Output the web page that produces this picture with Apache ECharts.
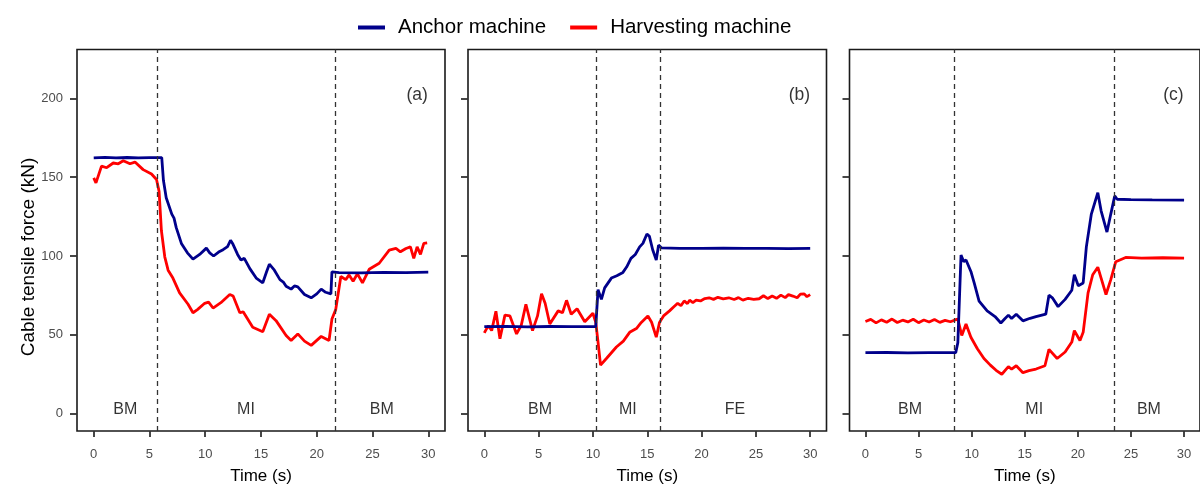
<!DOCTYPE html>
<html>
<head>
<meta charset="utf-8">
<script src="https://cdn.jsdelivr.net/npm/echarts@6/dist/echarts.min.js"></script>
<style>html,body{margin:0;padding:0;background:#fff}#c{width:1200px;height:490px}</style>
</head>
<body>
<div id="c"></div>
<script>
// ---------- DATA ----------
const seriesNames = ['Anchor machine', 'Harvesting machine'];
const panelTags = ['(a)', '(b)', '(c)'];
const yTitle = 'Cable tensile force (kN)';
const xTitle = 'Time (s)';
const xTicks = [0, 5, 10, 15, 20, 25, 30];
const yTicks = [0, 50, 100, 150, 200];

const anchorA = [[0,162.3],[1,162.6],[2,162.2],[3,162.5],[4,162.3],[5,162.4],[6.1,162.4],[6.25,148],[6.5,137],[7.0,126.6],[7.2,124],[7.4,118],[7.86,108],[8.4,102],[8.9,98],[9.5,101],[10.1,105],[10.4,102],[10.75,100],[11.2,102.5],[11.6,104],[12.0,106],[12.27,110],[12.45,108],[12.6,109],[12.9,101],[13.2,97.5],[13.5,98.5],[14.0,92],[14.57,86],[15.16,83],[15.5,90],[15.75,94.8],[16.2,91],[16.7,85],[17.0,83.5],[17.25,80.8],[17.7,79],[18.0,81],[18.3,80.4],[18.9,75.6],[19.5,73.5],[20.0,76],[20.4,79],[20.8,77],[21.27,76],[21.36,90],[22,89.5],[24,89.3],[26,89.6],[28,89.5],[30,89.8]];
const harvestA = [[0,149.6],[0.2,146.4],[0.7,157],[1.16,156],[1.75,159],[2.2,158.5],[2.65,160.4],[3.25,158.5],[3.7,159.6],[4.43,154.8],[5.18,152],[5.63,148.5],[5.86,141],[6.07,116],[6.37,99.5],[6.67,91],[7.1,86],[7.7,76.6],[8.46,69.4],[8.9,64],[9.3,66],[9.95,70],[10.3,70.8],[10.7,67],[11.4,70.4],[12.2,75.6],[12.5,74.6],[13.1,64],[13.4,64.6],[14.26,54.8],[15.16,52],[15.75,63],[16.35,59],[17.25,49.6],[17.7,46.4],[18.3,50.6],[18.9,46],[19.5,43.3],[20.4,49],[21.1,46.4],[21.36,60],[21.7,66],[22.16,87],[22.6,85],[22.9,88],[23.26,84],[23.65,88.7],[24.1,83],[24.7,91.6],[25.6,95.4],[26.5,103.7],[27.1,104.8],[27.5,102.7],[28,104.8],[28.4,105.8],[28.7,98.5],[29,105.8],[29.3,101],[29.6,108],[29.9,108.3]];

const anchorB = [[0,55.2],[2,55.4],[4,55.1],[6,55.3],[8,55.2],[10.26,55.2],[10.47,78.7],[10.78,72.5],[11.08,79.8],[11.7,86],[12.2,87.5],[12.76,89.6],[13.1,93],[13.5,98.5],[13.9,101],[14.3,105.8],[14.6,108],[14.97,114],[15.2,112.5],[15.5,104],[15.83,97.5],[16.04,106.9],[16.3,105.2],[18,104.9],[20,104.8],[22,105],[24,104.8],[26,104.9],[28,104.7],[30,104.8]];
const harvestB = [[0,51.2],[0.37,55.8],[0.68,52.7],[1.07,65],[1.44,47.5],[1.9,62.5],[2.36,62],[2.97,50.6],[3.4,56],[3.83,69.4],[4.44,52.7],[4.9,62],[5.27,76],[5.6,70],[6.03,56.9],[6.8,65.2],[7.2,64],[7.57,71.9],[8.0,63.1],[8.54,66.6],[9.25,58.3],[10.0,63.7],[10.26,57.9],[10.47,45.4],[10.7,30.8],[11.24,35],[12.16,42.3],[12.8,46],[13.38,51.6],[14.0,54],[14.45,57.9],[15.06,62],[15.4,58],[15.83,48.5],[16.13,57.9],[16.5,62],[17.05,65.2],[17.4,67.5],[17.8,70],[18.1,68.5],[18.4,71.5],[18.7,69.8],[18.9,72],[19.2,70.5],[19.5,72],[19.9,71.5],[20.3,73],[20.7,73.5],[21.1,72.5],[21.5,73.8],[22,72.8],[22.5,73.5],[23,72.4],[23.4,73.6],[23.8,72],[24.3,73.2],[24.8,72.5],[25.3,72.9],[25.7,74.8],[26.1,73],[26.5,74.6],[26.9,73.2],[27.3,75.2],[27.7,73.6],[28,75.5],[28.4,74.6],[28.8,73.5],[29.1,75.8],[29.45,76],[29.7,74.2],[30,75.5]];

const anchorC = [[0,38.7],[2,38.8],[4,38.6],[6,38.7],[8.5,38.7],[8.7,45],[9.0,100.6],[9.26,96.4],[9.47,97.5],[9.93,90.2],[10.24,82.9],[10.7,71.4],[11.46,65.2],[12.2,61.6],[12.75,57.5],[13.1,60],[13.46,62.5],[13.76,60.4],[14.2,63.1],[14.83,58.9],[15.5,60.5],[16.06,61.6],[16.98,63.1],[17.28,75.2],[17.6,73.5],[18.14,67.9],[18.8,72.5],[19.43,78.3],[19.67,88.1],[20.04,81.2],[20.5,82.9],[20.8,105.8],[21.27,126.6],[21.88,140.2],[22.19,128.7],[22.74,115.2],[23.1,126.6],[23.47,138.1],[23.7,136],[25,135.8],[27,135.6],[30,135.4]];
const harvestC = [[0,58.5],[0.5,59.8],[1,57.6],[1.5,59.5],[2,58.0],[2.5,60.0],[3,57.8],[3.5,59.3],[4,58.2],[4.5,59.9],[5,57.7],[5.5,59.4],[6,58.1],[6.5,59.7],[7,57.9],[7.5,59.2],[8,58.3],[8.5,59.6],[8.7,60],[9.07,49.6],[9.47,56.9],[9.93,48.5],[10.54,41.2],[11.16,35],[11.76,30.8],[12.3,27.5],[12.84,25],[13.46,29.8],[13.76,28.3],[14.2,30.4],[14.83,26],[15.4,27.3],[16.06,28.3],[16.9,30.4],[17.28,40.8],[18.05,35],[18.8,39.1],[19.43,45.4],[19.67,52.7],[20.2,46.4],[20.5,51.6],[20.96,76.6],[21.4,88.1],[21.88,92.9],[22.19,86],[22.65,75.6],[23.1,85],[23.57,96.4],[24.5,99.1],[26,98.6],[28,98.9],[30,98.7]];

const splitsA = [5.66, 21.65];
const splitsB = [10.26, 16.16];
const splitsC = [8.4, 23.38];
const phasesA = ['BM', 'MI', 'BM'];
const phasesB = ['BM', 'MI', 'FE'];
const phasesC = ['BM', 'MI', 'BM'];

// ---------- CHART ----------
const panels = [
  {anchor: anchorA, harvest: harvestA, splits: splitsA, phases: phasesA, tag: panelTags[0], left: 77, width: 368},
  {anchor: anchorB, harvest: harvestB, splits: splitsB, phases: phasesB, tag: panelTags[1], left: 468, width: 358.5},
  {anchor: anchorC, harvest: harvestC, splits: splitsC, phases: phasesC, tag: panelTags[2], left: 849.5, width: 358.5}
];
const FONT = '"Liberation Sans", Arial, sans-serif';
const grids = [], xAxes = [], yAxes = [], series = [];
panels.forEach((p, i) => {
  grids.push({left: p.left, width: p.width, top: 49.5, height: 387.5, show: true,
    borderColor: '#1a1a1a', borderWidth: 1.6, backgroundColor: 'transparent', containLabel: false});
  xAxes.push({type: 'value', gridIndex: i, min: -1.5, max: 31.5, position: 'bottom',
    name: xTitle, nameLocation: 'middle', nameGap: 37,
    nameTextStyle: {fontFamily: FONT, fontSize: 17, color: '#000'},
    axisLine: {show: false, onZero: false}, splitLine: {show: false},
    axisTick: {show: true, inside: false, length: 6, customValues: xTicks, lineStyle: {color: '#333', width: 1.8}},
    axisLabel: {customValues: xTicks, fontFamily: FONT, fontSize: 13, color: '#4d4d4d', margin: 17}});
  yAxes.push({type: 'value', gridIndex: i, min: -11, max: 231, position: 'left',
    axisLine: {show: false, onZero: false}, splitLine: {show: false},
    axisTick: {show: true, inside: false, length: 7, customValues: yTicks, lineStyle: {color: '#333', width: 1.8}},
    axisLabel: {show: i === 0, customValues: yTicks, fontFamily: FONT, fontSize: 13, color: '#4d4d4d', margin: 14}});
  series.push({type: 'line', name: seriesNames[0], xAxisIndex: i, yAxisIndex: i, data: p.anchor,
    showSymbol: false, symbol: 'none', lineStyle: {color: '#00008B', width: 2.8}, itemStyle: {color: '#00008B'},
    animation: false, z: 3,
    markLine: {silent: true, symbol: ['none', 'none'], label: {show: false},
      lineStyle: {color: '#333', type: [5, 4], width: 1.3},
      data: p.splits.map(s => ({xAxis: s}))}});
  series.push({type: 'line', name: seriesNames[1], xAxisIndex: i, yAxisIndex: i, data: p.harvest,
    showSymbol: false, symbol: 'none', lineStyle: {color: '#FF0000', width: 2.8}, itemStyle: {color: '#FF0000'},
    animation: false, z: 2});
  const bounds = [0, ...p.splits, 30];
  const labelData = p.phases.map((ph, k) => ({value: [(bounds[k] + bounds[k + 1]) / 2, 2.5, ph], label: {fontSize: 16}}));
  labelData.push({value: [29, 202, p.tag], label: {fontSize: 17.5}});
  series.push({type: 'scatter', xAxisIndex: i, yAxisIndex: i, data: labelData, symbolSize: 0, silent: true,
    animation: false, z: 5,
    label: {show: true, position: 'inside', formatter: q => q.value[2], fontFamily: FONT, color: '#000',
      textBorderWidth: 0, textShadowBlur: 0}});
});

const chart = echarts.init(document.getElementById('c'), null, {renderer: 'canvas'});
chart.setOption({
  backgroundColor: '#fff',
  animation: false,
  legend: {data: seriesNames, top: 12, left: 353, icon: 'rect', itemWidth: 27, itemHeight: 4, itemGap: 24,
    textStyle: {fontFamily: FONT, fontSize: 20.5, color: '#000', padding: [0, 0, 0, 8]}},
  graphic: [{type: 'text', x: 29, y: 257, rotation: Math.PI / 2,
    style: {text: yTitle, fontFamily: FONT, fontSize: 19, fill: '#000', align: 'center', verticalAlign: 'middle'}}],
  grid: grids, xAxis: xAxes, yAxis: yAxes, series: series
});
</script>
</body>
</html>
